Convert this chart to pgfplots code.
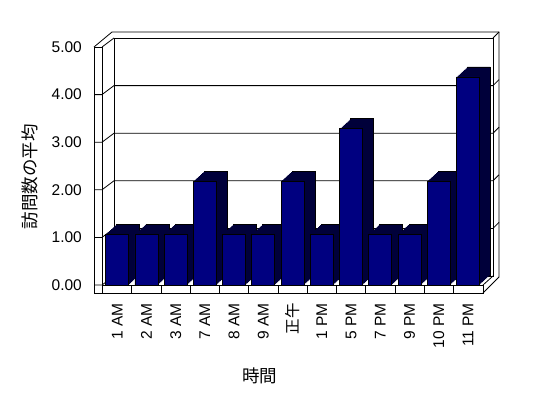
\documentclass[border=0pt]{standalone}
\usepackage{fontspec}
\setmainfont{Liberation Sans}
\newfontfamily\cjk{Noto Sans CJK JP}
\usepackage{pgfplots}
\pgfplotsset{compat=1.18}
\usepackage{pgfplotstable}
\definecolor{navyfront}{RGB}{0,0,128}
\definecolor{navydark}{RGB}{0,0,58}
\pgfplotstableread{
x y
0 1.07
1 1.07
2 1.07
3 2.18
4 1.07
5 1.07
6 2.18
7 1.07
8 3.28
9 1.07
10 1.07
11 2.18
12 4.37
}\visits
\begin{document}
\begin{tikzpicture}
\begin{scope}[x=1bp,y=1bp]
\path[use as bounding box] (0,0) rectangle (548,398);
% frame (3D walls)
\begin{scope}[line width=0.8bp, black]
\draw[fill=white] (114,122) rectangle (493,360);
\draw (94,351) -- (112,366) -- (499,366) -- (499,121);
\draw (102,351) -- (114,360);
\draw (493,360) -- (499,366);
\draw[fill=white] (94,105) rectangle (102,351);
\draw[fill=white] (102,105) rectangle (483,113);
\draw (483,113) -- (493,122);
\draw (483,105) -- (499,121);
\draw (94,113) -- (102,113) -- (114,122);
\foreach \k in {1,2,3,4}{
  \draw (94,{113+47.6*\k}) -- (102,{113+47.6*\k}) -- (114,{122+47.6*\k}) -- (493,{122+47.6*\k}) -- (499,{128+47.6*\k});
}
\foreach \k in {1,...,12}{
  \draw ({102.6+29.23*\k},105) -- ({102.6+29.23*\k},113);
}
\end{scope}
\end{scope}
\begin{axis}[
  at={(102.6bp,113bp)}, anchor=south west,
  scale only axis, width=380bp, height=238bp,
  xmin=-0.5, xmax=12.5, ymin=0, ymax=5,
  clip=false,
  axis line style={draw=none},
  major tick length=0pt, tick style={draw=none},
  ytick={0,1,2,3,4,5},
  /pgf/number format/assume math mode=true,
  /pgf/number format/fixed,
  /pgf/number format/fixed zerofill,
  /pgf/number format/precision=2,
  yticklabel style={font=\fontsize{15.5bp}{18bp}\selectfont, anchor=east, inner sep=0pt, xshift=-20.6bp},
  xtick={0,...,12},
  xticklabels={1 AM, 2 AM, 3 AM, 7 AM, 8 AM, 9 AM, {\cjk 正午}, 1 PM, 5 PM, 7 PM, 9 PM, 10 PM, 11 PM},
  xticklabel style={yshift=-18bp, rotate=90, anchor=east, inner sep=0pt, font=\fontsize{15.5bp}{18bp}\selectfont},
  ybar, bar width=23bp, bar shift=0pt,
]
\addplot[fill=navydark, draw=black, line width=0.8bp, bar shift=0pt, xshift=11bp, yshift=10bp] table[x=x,y=y]{\visits};
\pgfplotsinvokeforeach{9,8,7,6,5,4,3,2,1}{
  \addplot[fill=navydark, draw=none, bar shift=0pt, xshift=#1*1.1bp, yshift=#1*1bp] table[x=x,y=y]{\visits};
}
\addplot[fill=navyfront, draw=black, line width=0.8bp, bar shift=0pt] table[x=x,y=y]{\visits};
\end{axis}
\node[rotate=90, font=\cjk\fontsize{17.5bp}{20bp}\selectfont] at (30bp,221.5bp) {訪問数の平均};
\node[font=\cjk\fontsize{17.5bp}{20bp}\selectfont] at (259.5bp,22.5bp) {時間};
\end{tikzpicture}
\end{document}
